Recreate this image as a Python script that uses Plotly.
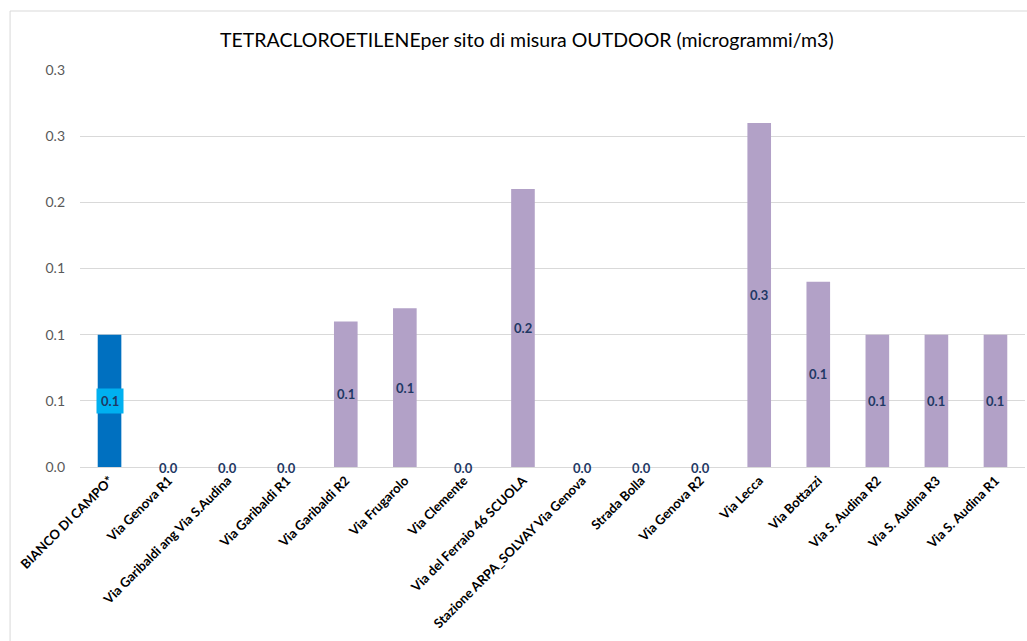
import plotly.graph_objects as go

# Measurement sites (outdoor) and tetrachloroethylene concentrations, µg/m3
sites = [
    "BIANCO DI CAMPO*",
    "Via Genova R1",
    "Via Garibaldi ang Via S.Audina",
    "Via Garibaldi R1",
    "Via Garibaldi R2",
    "Via Frugarolo",
    "Via Clemente",
    "Via del Ferraio 46 SCUOLA",
    "Stazione ARPA_SOLVAY Via Genova",
    "Strada Bolla",
    "Via Genova R2",
    "Via Lecca",
    "Via Bottazzi",
    "Via S. Audina R2",
    "Via S. Audina R3",
    "Via S. Audina R1",
]
values = [0.10, 0.0, 0.0, 0.0, 0.11, 0.12, 0.0, 0.21, 0.0, 0.0, 0.0, 0.26, 0.14, 0.10, 0.10, 0.10]

blank_color = "#0070C0"
site_color = "#B2A1C7"
colors = [blank_color] + [site_color] * (len(sites) - 1)

FONT = "Lato"

fig = go.Figure(
    go.Bar(
        x=sites,
        y=values,
        marker=dict(color=colors, line=dict(width=0)),
        hoverinfo="x+y",
    )
)

# Value labels centred on each bar (zero bars get their label on the baseline)
for i, (s, v) in enumerate(zip(sites, values)):
    fig.add_annotation(
        x=s,
        y=v / 2,
        text=f"<b>{v:.1f}</b>",
        showarrow=False,
        xanchor="center",
        yanchor="middle",
        yshift=-1 if v == 0 else 0,
        font=dict(family=FONT, size=13, color="#1F3864"),
        bgcolor="#00B0F0" if i == 0 else None,
        borderpad=4,
    )

# Chart area border
fig.add_shape(
    type="rect",
    xref="paper",
    yref="paper",
    x0=-0.074,
    x1=1.2,
    y0=-0.6,
    y1=1.1486,
    line=dict(color="#D9D9D9", width=1),
    fillcolor="rgba(0,0,0,0)",
    layer="below",
)

fig.update_layout(
    width=1027,
    height=641,
    margin=dict(l=80, r=2, t=70, b=174),
    paper_bgcolor="white",
    plot_bgcolor="white",
    bargap=0.6,
    showlegend=False,
    title=dict(
        text="TETRACLOROETILENEper sito di misura OUTDOOR (microgrammi/m3)",
        x=0.513,
        xref="container",
        xanchor="center",
        y=0.938,
        yanchor="middle",
        font=dict(family=FONT, size=19.5, color="#000000"),
    ),
    xaxis=dict(
        tickangle=-45,
        tickfont=dict(family=FONT, size=13, color="#000000", weight="bold"),
        showline=True,
        linecolor="#D9D9D9",
        linewidth=1,
        ticks="",
        showgrid=False,
    ),
    yaxis=dict(
        range=[0, 0.3],
        dtick=0.05,
        tickformat=".1f",
        showgrid=True,
        gridcolor="#D9D9D9",
        gridwidth=1,
        zeroline=False,
        showline=False,
        ticks="",
        ticklabelstandoff=14,
        tickfont=dict(family=FONT, size=14, color="#595959"),
    ),
)

fig.write_html("out.html")
